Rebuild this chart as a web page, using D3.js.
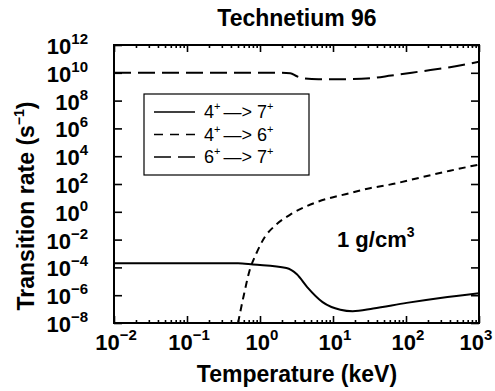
<!DOCTYPE html>
<html>
<head>
<meta charset="utf-8">
<script src="https://cdn.jsdelivr.net/npm/d3@7"></script>
<style>
  body { margin: 0; background: #fff; }
  text { font-family: "Liberation Sans", Arial, sans-serif; fill: #000; }
</style>
</head>
<body>
<div id="chart"></div>
<script>
// Temperature (keV) and transition rate (1/s)
const temp47 = [0.01, 0.5, 0.8, 2.3, 3.2, 4.4, 7.2, 12.6, 18.6, 35.5, 102, 295, 1000];
const rate47 = [2.0e-4, 2.0e-4, 1.6e-4, 9.0e-5, 3.2e-5, 4.0e-6, 3.2e-7, 9.0e-8, 7.0e-8, 1.1e-7, 2.8e-7, 6.3e-7, 1.4e-6];

const temp46 = [0.5, 0.6, 0.72, 0.89, 1.17, 1.6, 2.6, 6.0, 17, 32, 60, 170, 400, 1000];
const rate46 = [1e-8, 1e-6, 6e-5, 1e-3, 1.6e-2, 0.1, 0.63, 5, 22, 50, 90, 320, 900, 2500];

const temp67 = [0.01, 2.0, 2.6, 3.2, 4.0, 6.3, 16, 32, 63, 160, 400, 1000];
const rate67 = [1e10, 1e10, 9.3e9, 5.6e9, 4.0e9, 3.5e9, 3.5e9, 4.0e9, 6.3e9, 1.26e10, 2.5e10, 6.3e10];

const series = [
  { name: ['4', '7'], t: temp47, r: rate47, dash: null, legendDash: null },
  { name: ['4', '6'], t: temp46, r: rate46, dash: '7,5', legendDash: '9,7' },
  { name: ['6', '7'], t: temp67, r: rate67, dash: '17,7', legendDash: '17,7' }
];

const xTicks = [-2, -1, 0, 1, 2, 3];
const yTicks = [-8, -6, -4, -2, 0, 2, 4, 6, 8, 10, 12];

const W = 495, H = 391;
const margin = { t: 45, r: 16, b: 68, l: 114 };
const iw = W - margin.l - margin.r;
const ih = H - margin.t - margin.b;

const svg = d3.select('#chart').append('svg')
  .attr('width', W).attr('height', H);

const x = d3.scaleLog().domain([1e-2, 1e3]).range([0, iw]);
const y = d3.scaleLog().domain([1e-8, 1e12]).range([ih, 0]);

const g = svg.append('g').attr('transform', `translate(${margin.l},${margin.t})`);

g.append('defs').append('clipPath').attr('id', 'clip')
  .append('rect').attr('width', iw).attr('height', ih);

// minor + major ticks on x (top and bottom), inward
const xMinor = [];
for (let e = -2; e < 3; e++) for (let k = 2; k <= 9; k++) xMinor.push(k * Math.pow(10, e));
const xMajor = xTicks.map(e => Math.pow(10, e));

function tickAxis(axisFn, scale, values, size) {
  return axisFn(scale).tickValues(values).tickSize(-size).tickFormat('');
}

g.append('g').attr('transform', `translate(0,${ih})`)
  .call(tickAxis(d3.axisBottom, x, xMinor, 3));
g.append('g').attr('transform', `translate(0,${ih})`)
  .call(tickAxis(d3.axisBottom, x, xMajor, 7));
g.append('g').call(tickAxis(d3.axisTop, x, xMinor, 3));
g.append('g').call(tickAxis(d3.axisTop, x, xMajor, 7));

const yMajor = yTicks.map(e => Math.pow(10, e));
g.append('g').call(tickAxis(d3.axisLeft, y, yMajor, 8));
g.append('g').attr('transform', `translate(${iw},0)`)
  .call(tickAxis(d3.axisRight, y, yMajor, 8));

g.selectAll('.domain').remove();
g.selectAll('.tick line').attr('stroke', '#000').attr('stroke-width', 1.6);

// frame
g.append('rect').attr('width', iw).attr('height', ih)
  .attr('fill', 'none').attr('stroke', '#000').attr('stroke-width', 2);

// tick labels
const supLabel = (sel, e) => {
  sel.append('tspan').text('10');
  sel.append('tspan').attr('dy', -10).style('font-size', '15px')
    .text(e < 0 ? '\u2212' + (-e) : String(e));
};

yTicks.forEach(e => {
  const t = g.append('text')
    .attr('x', -26).attr('y', y(Math.pow(10, e)) + 9)
    .attr('text-anchor', 'end')
    .style('font-size', '22px').style('font-weight', 'bold');
  supLabel(t, e);
});

xTicks.forEach((e, i) => {
  const last = i === xTicks.length - 1;
  const t = g.append('text')
    .attr('x', x(Math.pow(10, e)) + (last ? -3 : 2)).attr('y', ih + 27)
    .attr('text-anchor', 'middle')
    .style('font-size', '22px').style('font-weight', 'bold');
  supLabel(t, e);
});

// lines
const line = d3.line()
  .x(d => x(d[0]))
  .y(d => y(d[1]))
  .curve(d3.curveMonotoneX);

const plot = g.append('g').attr('clip-path', 'url(#clip)');
series.forEach(s => {
  plot.append('path')
    .datum(d3.zip(s.t, s.r))
    .attr('fill', 'none')
    .attr('stroke', '#000')
    .attr('stroke-width', 2)
    .attr('stroke-dasharray', s.dash)
    .attr('d', line);
});

// legend
const lg = svg.append('g').attr('transform', 'translate(144,94)');
lg.append('rect').attr('width', 165).attr('height', 81)
  .attr('fill', '#fff').attr('stroke', '#000').attr('stroke-width', 1.2);
series.forEach((s, i) => {
  const ly = 18 + i * 22.5;
  lg.append('line').attr('x1', 10).attr('x2', 51).attr('y1', ly).attr('y2', ly)
    .attr('stroke', '#000').attr('stroke-width', 1.3)
    .attr('stroke-dasharray', s.legendDash);
  const t = lg.append('text').attr('x', 60).attr('y', ly + 6)
    .style('font-size', '18px');
  t.append('tspan').text(s.name[0]);
  t.append('tspan').attr('dy', -8).style('font-size', '11px').text('+');
  t.append('tspan').attr('dy', 8).attr('dx', 3).text('\u2014> ' + s.name[1]);
  t.append('tspan').attr('dy', -8).style('font-size', '11px').text('+');
});

// density annotation
const ann = g.append('text').attr('x', 223).attr('y', 202)
  .style('font-size', '22px').style('font-weight', 'bold');
ann.append('tspan').text('1 g/cm');
ann.append('tspan').attr('dy', -10).style('font-size', '14px').text('3');

// title and axis labels
svg.append('text').attr('x', 297).attr('y', 26)
  .attr('text-anchor', 'middle')
  .style('font-size', '23px').style('font-weight', 'bold')
  .text('Technetium 96');

svg.append('text').attr('x', 297).attr('y', 382)
  .attr('text-anchor', 'middle')
  .style('font-size', '23px').style('font-weight', 'bold')
  .text('Temperature (keV)');

const yl = svg.append('text')
  .attr('transform', `translate(34,${margin.t + ih / 2 + 22}) rotate(-90)`)
  .attr('text-anchor', 'middle')
  .style('font-size', '23px').style('font-weight', 'bold');
yl.append('tspan').text('Transition rate (s');
yl.append('tspan').attr('dy', -10).style('font-size', '14px').text('\u22121');
yl.append('tspan').attr('dy', 10).text(')');
</script>
</body>
</html>
